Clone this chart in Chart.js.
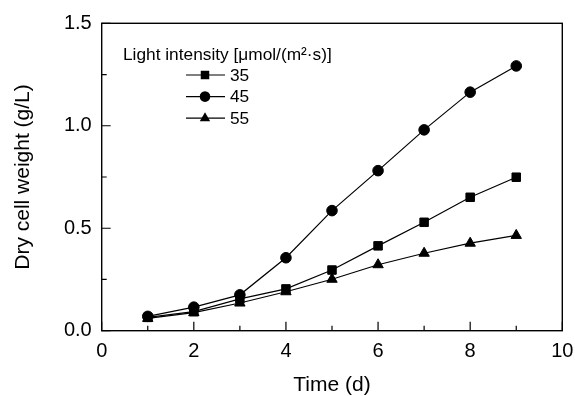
<!DOCTYPE html>
<html>
<head>
<meta charset="utf-8">
<script src="https://cdn.jsdelivr.net/npm/chart.js@4/dist/chart.umd.min.js"></script>
<style>
  body { margin: 0; background: #fff; }
  canvas { display: block; }
</style>
</head>
<body>
<canvas id="dcw" width="575" height="396"></canvas>
<script>
// dry cell weight vs time, three light intensities
const days = [1, 2, 3, 4, 5, 6, 7, 8, 9];
const dcw35 = [0.065, 0.093, 0.155, 0.204, 0.296, 0.414, 0.529, 0.651, 0.749];
const dcw45 = [0.070, 0.115, 0.175, 0.356, 0.586, 0.781, 0.980, 1.164, 1.292];
const dcw55 = [0.060, 0.088, 0.135, 0.190, 0.251, 0.322, 0.378, 0.427, 0.465];
const seriesLabels = ['35', '45', '55'];
const legendTitle = 'Light intensity [\u03bcmol/(m\u00b2\u00b7s)]';
const xTicks = [0, 2, 4, 6, 8, 10];
const xMinor = [1, 3, 5, 7, 9];
const yTicks = [0, 0.5, 1.0, 1.5];
const yMinor = [0.25, 0.75, 1.25];

const FONT = "'Liberation Sans', Arial, sans-serif";

function pts(vals) {
  return days.map((d, i) => ({ x: d, y: vals[i] }));
}

function marker(ctx, style, x, y, r) {
  ctx.beginPath();
  if (style === 'rect') {
    const s = Math.SQRT1_2 * r;
    ctx.rect(x - s, y - s, 2 * s, 2 * s);
  } else if (style === 'triangle') {
    ctx.moveTo(x, y - r);
    ctx.lineTo(x + r * Math.sin(Math.PI / 3), y + r / 2);
    ctx.lineTo(x - r * Math.sin(Math.PI / 3), y + r / 2);
    ctx.closePath();
  } else {
    ctx.arc(x, y, r, 0, Math.PI * 2);
  }
  ctx.fill();
}

// box frame, inward ticks and the inset legend
const framePlugin = {
  id: 'frame',
  afterDraw(chart) {
    const ctx = chart.ctx;
    const a = chart.chartArea;
    const xs = chart.scales.x, ys = chart.scales.y;
    ctx.save();
    ctx.strokeStyle = '#000';
    ctx.lineWidth = 1.4;
    ctx.strokeRect(a.left, a.top, a.right - a.left, a.bottom - a.top);
    ctx.lineWidth = 1.2;
    ctx.beginPath();
    xTicks.forEach(v => { const px = xs.getPixelForValue(v); ctx.moveTo(px, a.bottom); ctx.lineTo(px, a.bottom - 9); });
    xMinor.forEach(v => { const px = xs.getPixelForValue(v); ctx.moveTo(px, a.bottom); ctx.lineTo(px, a.bottom - 5); });
    yTicks.forEach(v => { const py = ys.getPixelForValue(v); ctx.moveTo(a.left, py); ctx.lineTo(a.left + 9, py); });
    yMinor.forEach(v => { const py = ys.getPixelForValue(v); ctx.moveTo(a.left, py); ctx.lineTo(a.left + 5, py); });
    ctx.stroke();

    // legend
    ctx.fillStyle = '#000';
    ctx.font = '17.3px ' + FONT;
    ctx.textBaseline = 'middle';
    ctx.textAlign = 'left';
    ctx.fillText(legendTitle, 123, 55);
    chart.data.datasets.forEach((ds, i) => {
      const y = 75 + i * 21.6;
      ctx.lineWidth = 1.2;
      ctx.beginPath();
      ctx.moveTo(186, y);
      ctx.lineTo(225, y);
      ctx.stroke();
      marker(ctx, ds.pointStyle, 205, y, ds.pointRadius);
      ctx.fillText(ds.label, 230, y + 1);
    });
    ctx.restore();
  }
};

function ds(label, vals, style, r) {
  return {
    label: label,
    data: pts(vals),
    borderColor: '#000',
    backgroundColor: '#000',
    borderWidth: 1.2,
    pointStyle: style,
    pointRadius: r,
    pointBackgroundColor: '#000',
    pointBorderColor: '#000',
    pointBorderWidth: 1,
    tension: 0
  };
}

new Chart(document.getElementById('dcw').getContext('2d'), {
  type: 'line',
  data: {
    datasets: [
      ds(seriesLabels[0], dcw35, 'rect', 6),
      ds(seriesLabels[1], dcw45, 'circle', 5.3),
      ds(seriesLabels[2], dcw55, 'triangle', 6)
    ]
  },
  options: {
    responsive: false,
    animation: false,
    layout: { padding: { left: 0, top: 23.3, right: 12.7, bottom: 0 } },
    plugins: { legend: { display: false }, tooltip: { enabled: false } },
    scales: {
      x: {
        type: 'linear',
        min: 0, max: 10,
        afterBuildTicks(s) { s.ticks = xTicks.map(v => ({ value: v })); },
        afterFit(s) { s.height = 65.3; s.paddingLeft = 0; s.paddingRight = 0; },
        grid: { display: false, drawTicks: false },
        border: { display: false },
        ticks: { color: '#000', padding: 9, font: { family: FONT, size: 20 }, maxRotation: 0 },
        title: { display: true, text: 'Time (d)', color: '#000', padding: 0, font: { family: FONT, size: 21, lineHeight: 1 } }
      },
      y: {
        min: 0, max: 1.5,
        afterBuildTicks(s) { s.ticks = yTicks.map(v => ({ value: v })); },
        afterFit(s) { s.width = 101.7; s.paddingTop = 0; s.paddingBottom = 0; },
        grid: { display: false, drawTicks: false },
        border: { display: false },
        ticks: { color: '#000', padding: 10, font: { family: FONT, size: 20 }, callback: v => v.toFixed(1) },
        title: { display: true, text: 'Dry cell weight (g/L)', color: '#000', padding: { top: 12.5, bottom: 0 }, font: { family: FONT, size: 21, lineHeight: 1 } }
      }
    }
  },
  plugins: [framePlugin]
});
</script>
</body>
</html>
